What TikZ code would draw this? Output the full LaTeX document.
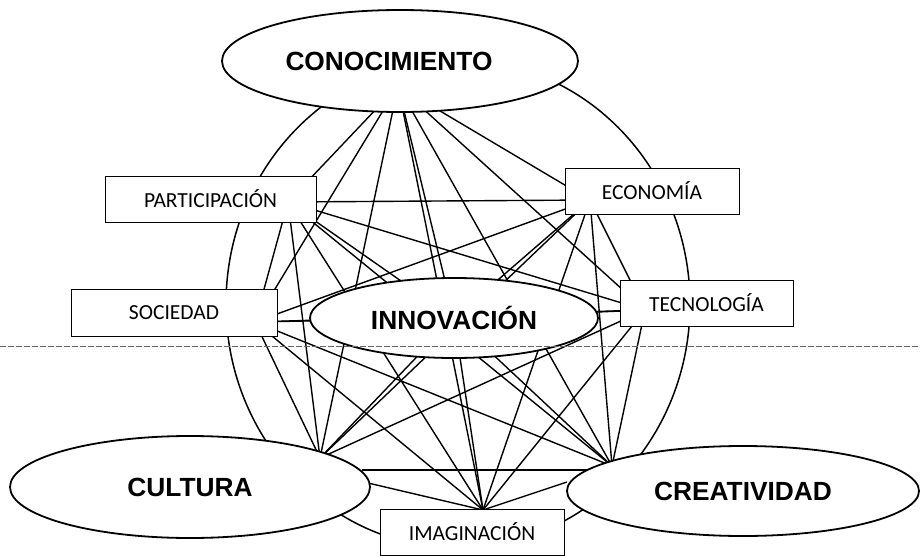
\documentclass[tikz,border=0pt]{standalone}
\usepackage{fontspec}
\setmainfont{Liberation Sans}
\newfontfamily\boxfont{Carlito}
\usetikzlibrary{shapes.geometric}
\pgfdeclarelayer{bg}
\pgfsetlayers{bg,main}
\begin{document}
\begin{tikzpicture}[x=1pt,y=-1pt,
  big/.style={ellipse,draw,line width=1.8pt,fill=white,inner sep=0pt,font=\fontsize{26.3}{30}\selectfont\bfseries},
  lbl/.style={rectangle,draw,line width=0.9pt,fill=white,inner sep=0pt,font=\boxfont\fontsize{21.5}{24}\selectfont},
  link/.style={line width=1.4pt},
  ring/.style={line width=1.5pt},
  fold/.style={line width=0.5pt,black!60,dash pattern=on 6pt off 2pt}]
\useasboundingbox (0,0) rectangle (920,556);
% nodes
\node[big,minimum width=356pt,minimum height=102pt] (con) at (400,61) {CONOCIMIENTO\kern22pt};
\node[big,minimum width=288pt,minimum height=80pt] (inn) at (454,318) {INNOVACIÓN};
\node[big,minimum width=360pt,minimum height=102pt] (cul) at (190,487) {CULTURA};
\node[big,minimum width=352pt,minimum height=90pt] (cre) at (743,491) {CREATIVIDAD};
\node[lbl,minimum width=211pt,minimum height=46pt] (par) at (210.5,199) {PARTICIPACIÓN};
\node[lbl,minimum width=174pt,minimum height=46pt] (eco) at (652,191) {ECONOMÍA};
\node[lbl,minimum width=206pt,minimum height=47pt] (soc) at (174,312.5) {SOCIEDAD};
\node[lbl,minimum width=173pt,minimum height=46pt] (tec) at (706.5,303) {TECNOLOGÍA};
\node[lbl,minimum width=184pt,minimum height=46pt] (ima) at (472,532) {IMAGINACIÓN};
% connection points
\coordinate (conA) at (398,86);
\coordinate (parA) at (288,202);
\coordinate (ecoA) at (590,200);
\coordinate (socA) at (255,322);
\coordinate (tecA) at (645,310);
\coordinate (innA) at (454,318);
\coordinate (culA) at (320,458);
\coordinate (creA) at (612,466);
\coordinate (imaA) at (483,510);
\coordinate (culE) at (362,470);
\coordinate (creW) at (588,470);
\coordinate (culR) at (368,483);
\coordinate (creL) at (567,482);
\begin{pgfonlayer}{bg}
\fill[white] (0,0) rectangle (920,556);
\draw[ring] (458,304) ellipse [x radius=232pt, y radius=244pt];
\foreach \a/\b in {conA/parA,conA/ecoA,conA/socA,conA/innA,conA/tecA,conA/culA,conA/creA,conA/imaA,
  parA/ecoA,parA/socA,parA/innA,parA/tecA,parA/culA,parA/creA,parA/imaA,
  ecoA/socA,ecoA/innA,ecoA/tecA,ecoA/culA,ecoA/creA,ecoA/imaA,
  socA/innA,socA/tecA,socA/culA,socA/creA,socA/imaA,
  innA/tecA,innA/culA,innA/creA,innA/imaA,
  tecA/culA,tecA/creA,tecA/imaA,
  culE/creW,culR/imaA,creL/imaA}
  \draw[link] (\a) -- (\b);
\end{pgfonlayer}
\draw[fold] (0,346) -- (920,346);
\end{tikzpicture}
\end{document}
